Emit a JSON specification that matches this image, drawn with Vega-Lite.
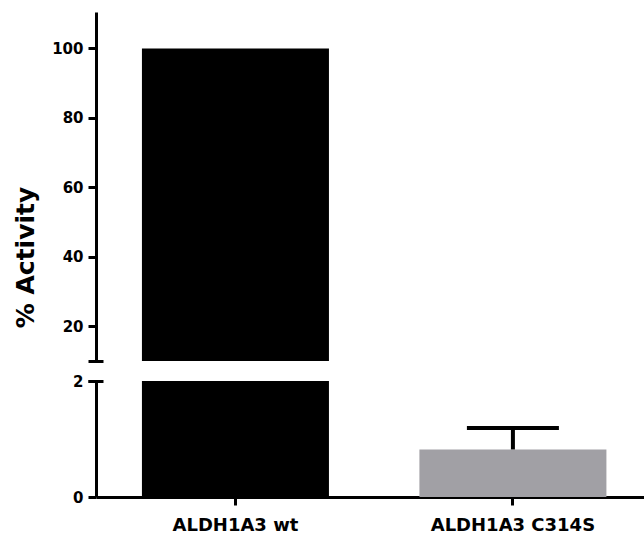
{
  "$schema": "https://vega.github.io/schema/vega-lite/v6.json",
  "autosize": {"type": "pad"},
  "padding": {"left": 13, "top": 12, "right": 0, "bottom": 3},
  "bounds": "flush",
  "spacing": 20,
  "background": "white",
  "data": {
    "values": [
      {"group": "ALDH1A3 wt", "activity": 100, "upper": null},
      {"group": "ALDH1A3 C314S", "activity": 0.82, "upper": 1.19}
    ]
  },
  "config": {
    "view": {"stroke": null},
    "font": "DejaVu Sans",
    "axis": {
      "grid": false,
      "domainColor": "#000000",
      "domainWidth": 3,
      "tickColor": "#000000",
      "tickWidth": 3,
      "tickSize": 8,
      "labelColor": "#000000",
      "labelFont": "DejaVu Sans",
      "labelFontWeight": "bold",
      "labelFontSize": 15,
      "labelPadding": 5,
      "titleColor": "#000000",
      "titleFont": "DejaVu Sans",
      "titleFontWeight": "bold"
    }
  },
  "vconcat": [
    {
      "width": 548,
      "height": 349,
      "encoding": {
        "x": {
          "field": "group",
          "type": "nominal",
          "sort": ["ALDH1A3 wt", "ALDH1A3 C314S"],
          "scale": {"paddingInner": 0.326, "paddingOuter": 0.1505, "align": 0.55},
          "axis": null
        }
      },
      "layer": [
        {
          "mark": {"type": "bar", "clip": true},
          "encoding": {
            "y": {
              "field": "activity",
              "type": "quantitative",
              "scale": {"domain": [10, 110.5], "nice": false, "zero": false},
              "axis": {
                "values": [20, 40, 60, 80, 100],
                "title": "% Activity",
                "titleFontSize": 25,
                "titleX": -71,
                "titleY": 245,
                "titleAngle": 270,
                "titleAlign": "center",
                "titleBaseline": "middle",
                "orient": "left"
              }
            },
            "color": {
              "field": "group",
              "type": "nominal",
              "scale": {"domain": ["ALDH1A3 wt", "ALDH1A3 C314S"], "range": ["#000000", "#a1a0a5"]},
              "legend": null
            }
          }
        },
        {
          "transform": [{"filter": "isValid(datum.upper)"}],
          "mark": {"type": "rule", "clip": true, "strokeWidth": 4, "color": "#000000"},
          "encoding": {
            "y": {
              "field": "activity",
              "type": "quantitative",
              "axis": {"values": [10], "tickSize": 15, "offset": -7, "labels": false, "domain": false, "title": null, "orient": "left"}
            },
            "y2": {"field": "upper"}
          }
        }
      ],
      "resolve": {"axis": {"y": "independent"}}
    },
    {
      "width": 548,
      "height": 116,
      "encoding": {
        "x": {
          "field": "group",
          "type": "nominal",
          "sort": ["ALDH1A3 wt", "ALDH1A3 C314S"],
          "scale": {"paddingInner": 0.326, "paddingOuter": 0.1505, "align": 0.55},
          "axis": {"title": null, "labelAngle": 0, "labelFontSize": 18, "labelPadding": 11, "tickSize": 8}
        }
      },
      "layer": [
        {
          "mark": {"type": "bar", "clip": true},
          "encoding": {
            "y": {
              "field": "activity",
              "type": "quantitative",
              "scale": {"domain": [0, 2], "nice": false},
              "axis": {"values": [0, 1, 2], "format": "d", "title": null, "orient": "left"}
            },
            "color": {
              "field": "group",
              "type": "nominal",
              "scale": {"domain": ["ALDH1A3 wt", "ALDH1A3 C314S"], "range": ["#000000", "#a1a0a5"]},
              "legend": null
            }
          }
        },
        {
          "transform": [{"filter": "isValid(datum.upper)"}],
          "mark": {"type": "rule", "clip": true, "strokeWidth": 4, "color": "#000000"},
          "encoding": {
            "y": {
              "field": "activity",
              "type": "quantitative",
              "axis": {"values": [2], "tickSize": 15, "offset": -7, "labels": false, "domain": false, "title": null, "orient": "left"}
            },
            "y2": {"field": "upper"}
          }
        },
        {
          "transform": [{"filter": "isValid(datum.upper)"}],
          "mark": {"type": "tick", "clip": true, "thickness": 4, "size": 92, "color": "#000000", "opacity": 1},
          "encoding": {
            "y": {"field": "upper", "type": "quantitative", "axis": null}
          }
        }
      ],
      "resolve": {"axis": {"y": "independent"}}
    }
  ]
}
